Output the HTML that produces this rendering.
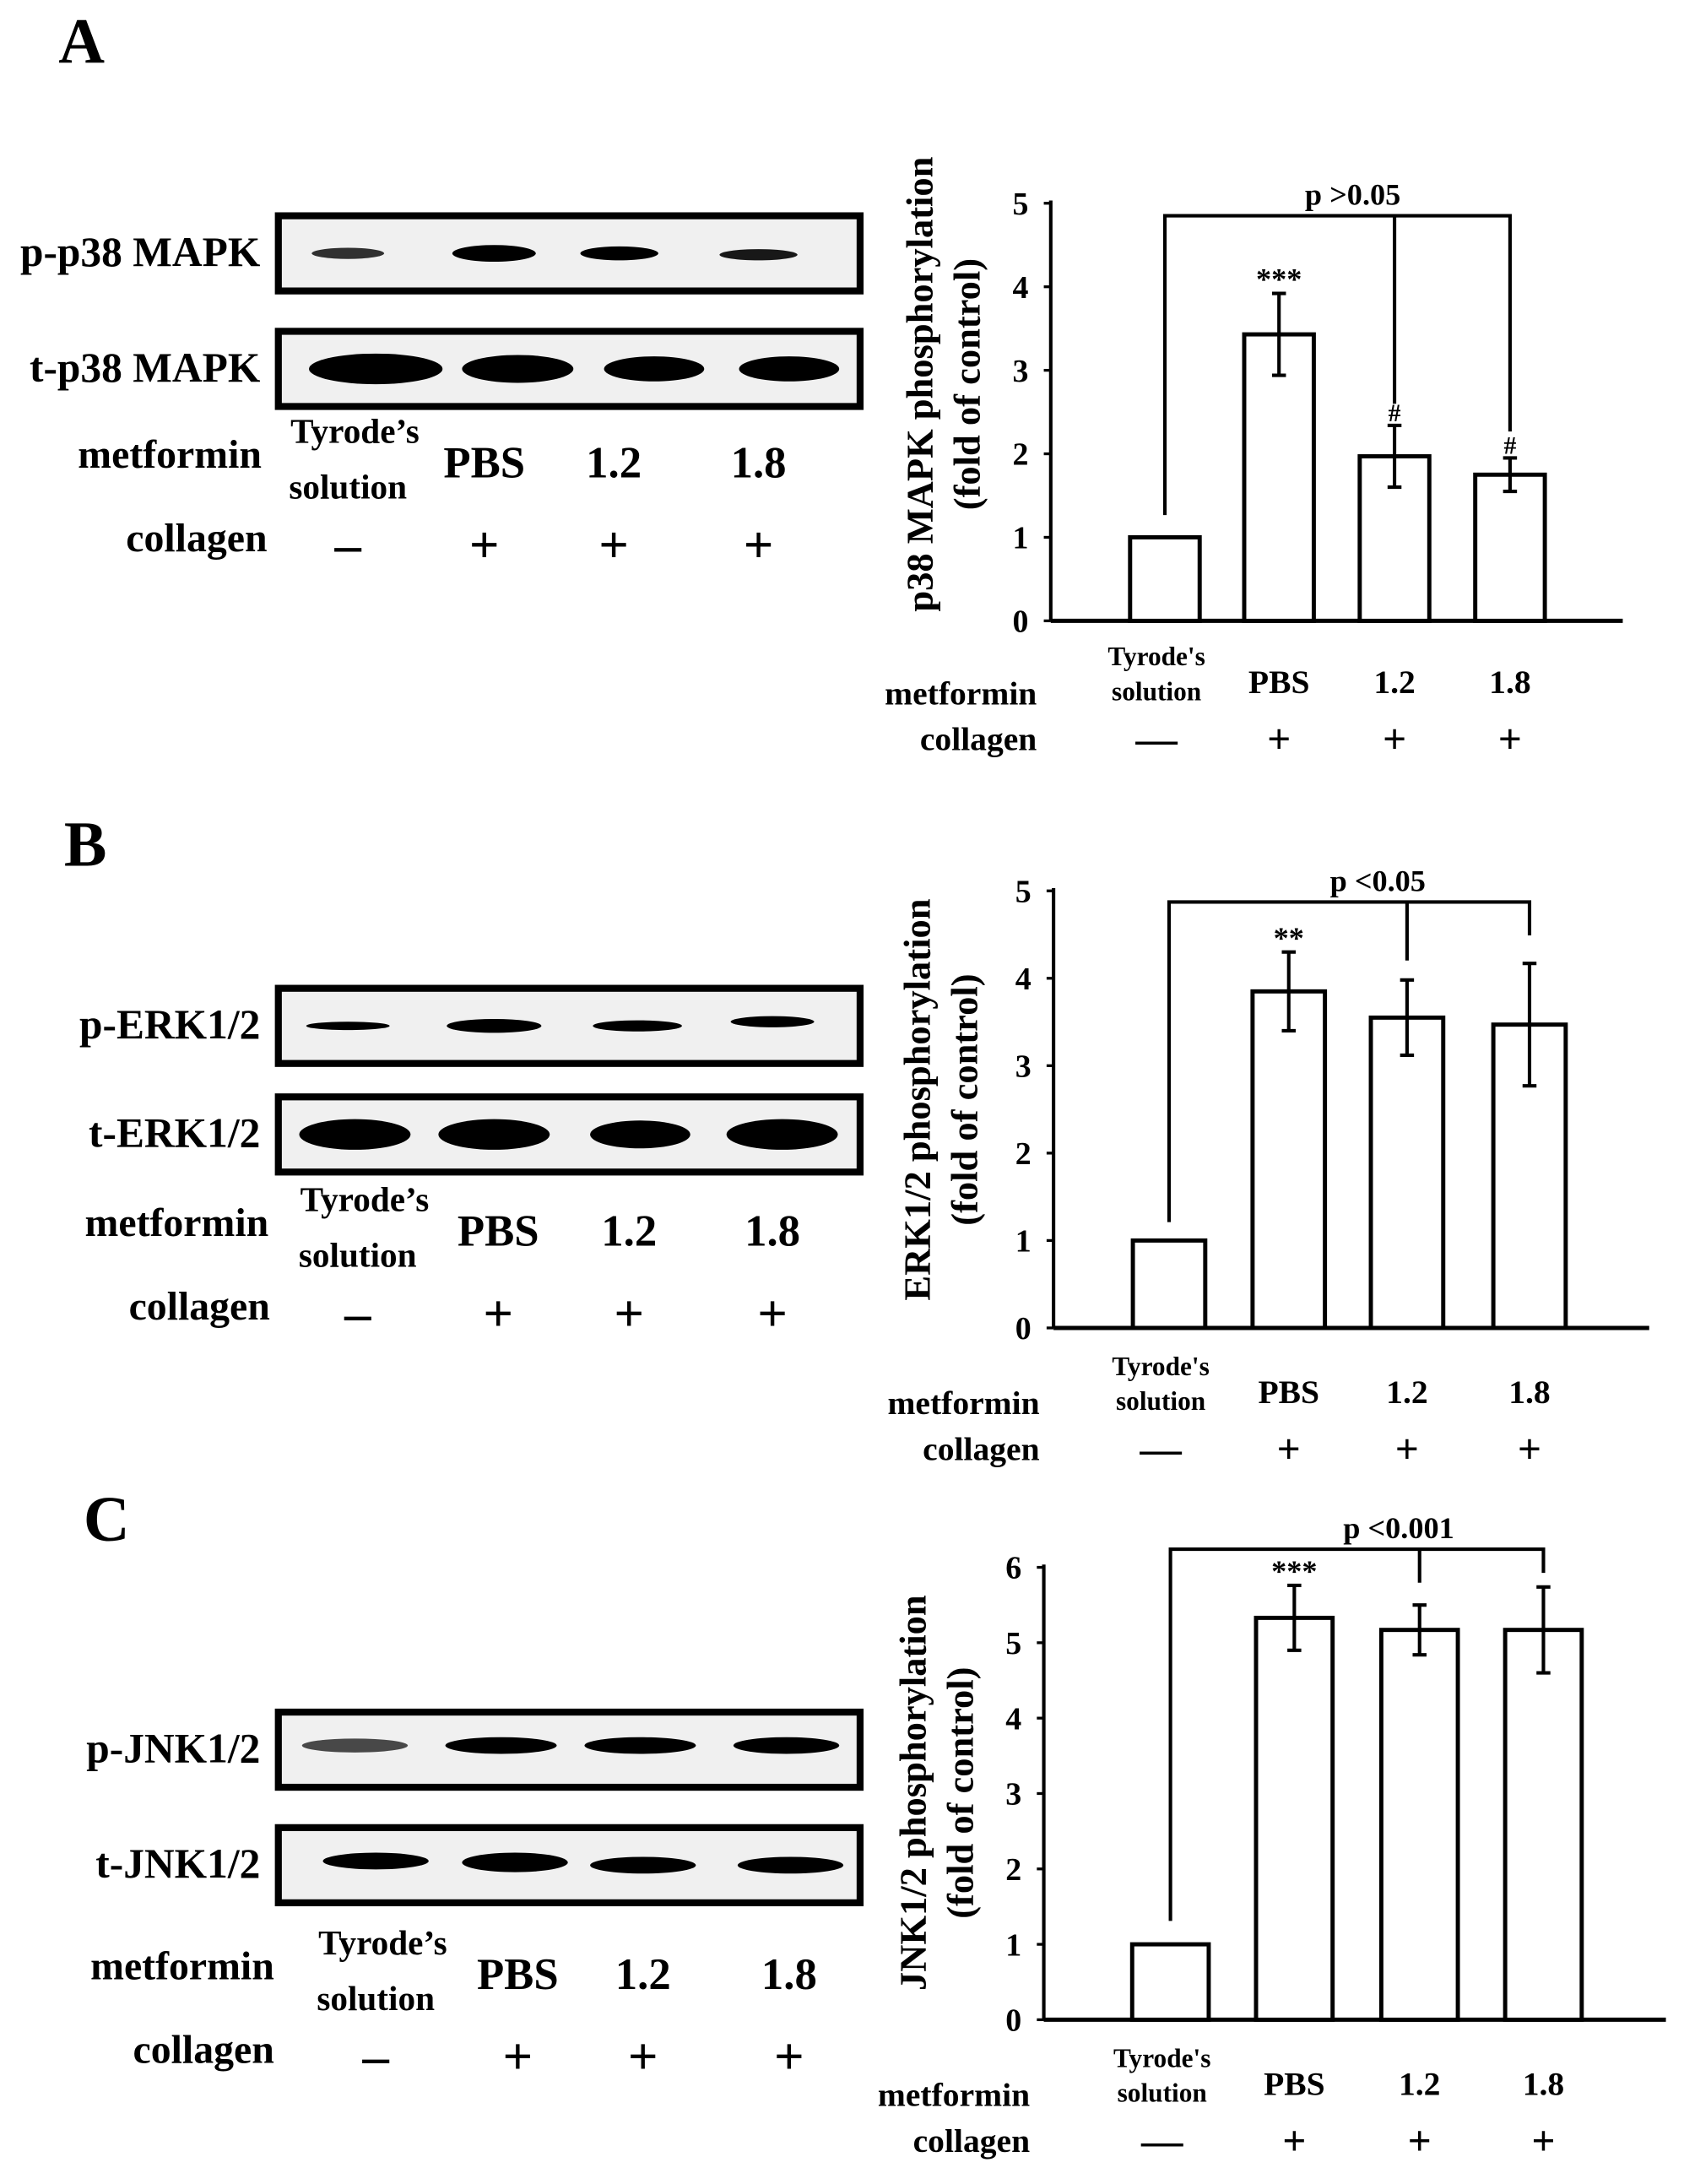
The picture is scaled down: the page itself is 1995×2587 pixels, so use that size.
<!DOCTYPE html>
<html><head><meta charset="utf-8"><style>
html,body{margin:0;padding:0;background:#fff}
svg{display:block}
text{font-family:"Liberation Serif",serif;font-weight:bold;fill:#000}
</style></head><body>
<svg id="fig" width="1995" height="2587" viewBox="0 0 1210 1569" xmlns="http://www.w3.org/2000/svg">
<g id="panels"></g>
</svg>
<script>
// Chart A (p38)
const catsA = ["Tyrode's solution","PBS","1.2","1.8"];
const valsA = [1, 3.43, 1.97, 1.75];
const errsA = [0, 0.49, 0.37, 0.2];
const ticksA = [0,1,2,3,4,5];
const marksA = ["","***","#","#"];
// Chart B (ERK)
const valsB = [1, 3.85, 3.55, 3.47];
const errsB = [0, 0.45, 0.43, 0.7];
const ticksB = [0,1,2,3,4,5];
const marksB = ["","**","",""];
// Chart C (JNK)
const valsC = [1, 5.33, 5.17, 5.17];
const errsC = [0, 0.43, 0.33, 0.57];
const ticksC = [0,1,2,3,4,5,6];
const marksC = ["","***","",""];

const NS="http://www.w3.org/2000/svg";
const root=document.getElementById('panels');
function mk(tag,attrs,parent,txt){const e=document.createElementNS(NS,tag);for(const k in attrs)e.setAttribute(k,attrs[k]);if(txt!==undefined)e.textContent=txt;(parent||root).appendChild(e);return e;}

function chart(cfg){
  const g=mk('g',{});
  
  
  const ymax=cfg.ticks[cfg.ticks.length-1];
  const y=v=>cfg.y0-(cfg.y0-cfg.ytop)*v/ymax;
  const x=i=>cfg.xs[i];
  const ya=mk('line',{x1:cfg.ax,y1:cfg.ytop-2,x2:cfg.ax,y2:cfg.y0,stroke:'#000','stroke-width':2.5},g);
  
  
  const xa=mk('line',{x1:cfg.ax,y1:cfg.y0,x2:cfg.xend,y2:cfg.y0,stroke:'#000','stroke-width':3},g);
  
  
  cfg.ticks.forEach(t=>{
    mk('line',{x1:cfg.ax-5,y1:y(t),x2:cfg.ax,y2:y(t),stroke:'#000','stroke-width':2},g);
    const tl=mk('text',{x:cfg.ax-16,y:y(t)+8,'font-size':23,'text-anchor':'end'},g,String(t));
    
    
  });
  cfg.vals.forEach((v,i)=>{
    const r=mk('rect',{x:x(i)-cfg.bw/2,y:y(v),width:cfg.bw,height:cfg.y0-y(v),fill:'#fff',stroke:'#000','stroke-width':3},g);
    
    
    const e=cfg.errs[i];
    if(e>0){
      const eb=mk('path',{d:`M${x(i)},${y(v+e)}V${y(v-e)}M${x(i)-5},${y(v+e)}H${x(i)+5}M${x(i)-5},${y(v-e)}H${x(i)+5}`,stroke:'#000','stroke-width':2.5,fill:'none'},g);
      
      
    }
    if(cfg.marks[i]){
      const m=mk('text',{x:x(i),y:y(v+e)-3,'font-size':cfg.marks[i][0]=='#'?18:22,'text-anchor':'middle'},g,cfg.marks[i]);
      
      
    }
  });
  const by=cfg.by;
  const b=mk('path',{d:`M${x(0)},${cfg.drop0}V${by}H${x(3)}V${cfg.drop3}M${x(2)},${by}V${cfg.drop2}`,stroke:'#000','stroke-width':2.5,fill:'none'},g);
  
  
  const p=mk('text',{x:cfg.px,y:by-8,'font-size':22,'text-anchor':'middle'},g,cfg.ptext);
  
  
  const tg=mk('text',{transform:`translate(${cfg.tx},${cfg.ty}) rotate(-90)`,'font-size':27,'text-anchor':'middle'},g);
  
  
  mk('tspan',{x:0,y:0},tg,cfg.title);
  mk('tspan',{x:0,y:34},tg,'(fold of control)');
  const t1=mk('text',{x:x(0)-6,y:cfg.lab+0,'font-size':19,'text-anchor':'middle'},g,"Tyrode's");
  
  
  mk('text',{x:x(0)-6,y:cfg.lab+25,'font-size':19,'text-anchor':'middle'},g,"solution");
  catsA.slice(1).forEach((c,j)=>{
    const l=mk('text',{x:x(j+1),y:cfg.lab+20,'font-size':24,'text-anchor':'middle'},g,c);
    
    
  });
  mk('text',{x:cfg.ax-10,y:cfg.lab+28,'font-size':24,'text-anchor':'end'},g,'metformin');
  mk('text',{x:cfg.ax-10,y:cfg.lab+61,'font-size':24,'text-anchor':'end'},g,'collagen');
  ['—','+','+','+'].forEach((s,i)=>{
    const c=mk('text',{x:x(i)-(i==0?6:0),y:cfg.lab+63,'font-size':30,'font-weight':'normal','text-anchor':'middle'},g,s);
    
    
  });
}

chart({name:'chart-p38',vals:valsA,errs:errsA,ticks:ticksA,marks:marksA,ax:755,y0:446,ytop:146,xend:1166,xs:[837,919,1002,1085],bw:50,
  by:155,drop0:370,drop2:290,drop3:310,px:972,ptext:'p >0.05',tx:670,ty:276,title:'p38 MAPK phosphorylation',lab:478});
chart({name:'chart-erk',vals:valsB,errs:errsB,ticks:ticksB,marks:marksB,ax:757,y0:954,ytop:640,xend:1185,xs:[840,926,1011,1099],bw:52,
  by:648,drop0:878,drop2:690,drop3:672,px:990,ptext:'p <0.05',tx:668,ty:790,title:'ERK1/2 phosphorylation',lab:988});
chart({name:'chart-jnk',vals:valsC,errs:errsC,ticks:ticksC,marks:marksC,ax:750,y0:1451,ytop:1126,xend:1197,xs:[841,930,1020,1109],bw:55,
  by:1113,drop0:1380,drop2:1137,drop3:1130,px:1005,ptext:'p <0.001',tx:665,ty:1288,title:'JNK1/2 phosphorylation',lab:1485});

function blot(name,label,top,bands,lx){
  const g=mk('g',{});
  
  
  mk('rect',{x:200,y:top,width:418,height:54,fill:'#f0f0f0',stroke:'#000','stroke-width':5},g);
  bands.forEach(b=>mk('ellipse',{cx:b[0],cy:top+27+(b[3]||0),rx:b[1],ry:b[2],fill:'#000','fill-opacity':b[4]||1},g));
  const t=mk('text',{x:lx,y:top+36,'font-size':30,'text-anchor':'end'},g,label);
  
  
}
function lanes(top,xs,name){
  const g=mk('g',{});
  
  
  mk('text',{x:xs[0],y:top,'font-size':25,'text-anchor':'middle'},g,'Tyrode’s');
  mk('text',{x:xs[0]-5,y:top+40,'font-size':25,'text-anchor':'middle'},g,'solution');
  ['PBS','1.2','1.8'].forEach((s,i)=>mk('text',{x:xs[i+1],y:top+25,'font-size':32,'text-anchor':'middle'},g,s));
  mk('text',{x:xs[4],y:top+18,'font-size':29,'text-anchor':'end'},g,'metformin');
  mk('text',{x:xs[5],y:top+78,'font-size':29,'text-anchor':'end'},g,'collagen');
  ['–','+','+','+'].forEach((s,i)=>mk('text',{x:xs[i]-(i==0?5:0),y:top+86,'font-size':38,'font-weight':'normal','text-anchor':'middle'},g,s));
}
mk('text',{x:42,y:45,'font-size':46},root,'A');
blot('blot-p-p38','p-p38 MAPK',155,[[250,26,4,0,0.8],[355,30,6],[445,28,5],[545,28,4,1,0.9]],187);
blot('blot-t-p38','t-p38 MAPK',238,[[270,48,11],[372,40,10],[470,36,9],[567,36,9]],187);
lanes(318,[255,348,441,545,188,192],'lanes-a');
mk('text',{x:46,y:622,'font-size':46},root,'B');
blot('blot-p-erk','p-ERK1/2',710,[[250,30,3],[355,34,5],[458,32,4],[555,30,4,-3]],187);
blot('blot-t-erk','t-ERK1/2',788,[[255,40,11],[355,40,11],[460,36,10],[562,40,11]],187);
lanes(870,[262,358,452,555,193,194],'lanes-b');
mk('text',{x:60,y:1107,'font-size':46},root,'C');
blot('blot-p-jnk','p-JNK1/2',1230,[[255,38,5,-3,0.7],[360,40,6,-3],[460,40,6,-3],[565,38,6,-3]],187);
blot('blot-t-jnk','t-JNK1/2',1313,[[270,38,6,-3],[370,38,7,-2],[462,38,6],[568,38,6]],187);
lanes(1404,[275,372,462,567,197,197],'lanes-c');
</script>
</body></html>
